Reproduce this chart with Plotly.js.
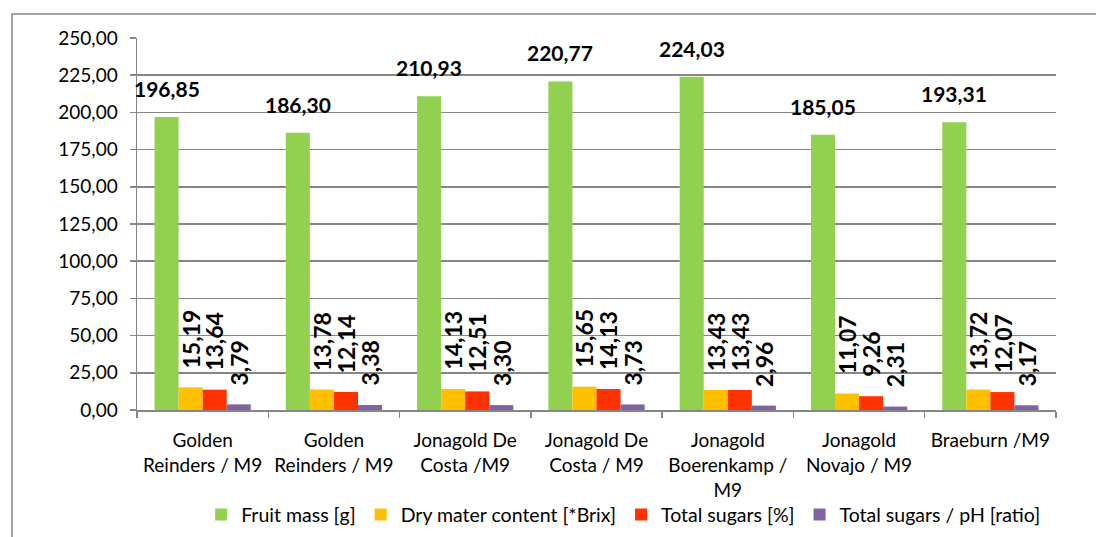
<!DOCTYPE html>
<html>
<head>
<meta charset="utf-8">
<script src="https://cdn.plot.ly/plotly-3.0.1.min.js"></script>
<style>html,body{margin:0;padding:0;background:#fff;}#chart{width:1096px;height:537px;}</style>
</head>
<body>
<div id="chart"></div>
<script>
var categories = ["Golden<br>Reinders / M9", "Golden<br>Reinders / M9", "Jonagold De<br>Costa /M9", "Jonagold De<br>Costa / M9", "Jonagold<br>Boerenkamp /<br>M9", "Jonagold<br>Novajo / M9", "Braeburn /M9"];
var fruitMass = [196.85, 186.30, 210.93, 220.77, 224.03, 185.05, 193.31];
var dryMatter = [15.19, 13.78, 14.13, 15.65, 13.43, 11.07, 13.72];
var totalSugars = [13.64, 12.14, 12.51, 14.13, 13.43, 9.26, 12.07];
var sugarsPh = [3.79, 3.38, 3.30, 3.73, 2.96, 2.31, 3.17];
var seriesNames = ["Fruit mass [g]", "Dry mater content [*Brix]", "Total sugars [%]", "Total sugars / pH [ratio]"];
var yTicks = [0, 25, 50, 75, 100, 125, 150, 175, 200, 225, 250];

var colors = ["#92D050", "#FFC000", "#FF3300", "#8064A2"];
var FONT = "Lato, 'Open Sans', sans-serif";
var BARGAP = 0.267;
var idx = categories.map(function(_, i){ return i; });
function fmt(v){ return v.toFixed(2).replace('.', ','); }

var series = [fruitMass, dryMatter, totalSugars, sugarsPh];
var nS = series.length;
var barW = (1 - BARGAP) / nS;

var traces = series.map(function(vals, k){
  return {
    type: 'bar',
    name: seriesNames[k],
    x: idx,
    y: vals,
    marker: {color: colors[k], line: {width: 0}},
    hoverinfo: 'none'
  };
});

var annotations = [];
series.forEach(function(vals, k){
  var off = -(1 - BARGAP) / 2 + barW * (k + 0.5);
  vals.forEach(function(v, i){
    if (k === 0) {
      annotations.push({x: i + off, y: v, xref: 'x', yref: 'y', text: fmt(v), showarrow: false,
        xanchor: 'center', yanchor: 'bottom', yshift: 14,
        font: {family: FONT, size: 21, weight: 700, color: '#000'}});
    } else {
      annotations.push({x: i + off, y: v, xref: 'x', yref: 'y', text: fmt(v), showarrow: false,
        textangle: -90, xanchor: 'center', yanchor: 'bottom', yshift: 17,
        font: {family: FONT, size: 23, weight: 700, color: '#000'}});
    }
  });
});

var layout = {
  width: 1096, height: 537,
  margin: {l: 137, r: 40, t: 38, b: 127, autoexpand: false},
  paper_bgcolor: '#fff', plot_bgcolor: '#fff',
  separators: ',.',
  barmode: 'group',
  bargap: BARGAP,
  bargroupgap: 0,
  font: {family: FONT, size: 19, color: '#000'},
  showlegend: true,
  legend: {orientation: 'h', x: 0.529, xanchor: 'center', y: -0.282, yanchor: 'middle',
           bgcolor: 'rgba(0,0,0,0)',
           font: {family: FONT, size: 19.5, color: '#000'}, traceorder: 'normal', itemwidth: 30},
  xaxis: {
    range: [-0.5, 6.5], tickmode: 'array', tickvals: idx, ticktext: categories,
    ticks: '', showgrid: false, zeroline: false, automargin: false,
    showline: true, linecolor: '#868686', linewidth: 1.5,
    tickfont: {family: FONT, size: 19, color: '#000'}, ticklabelstandoff: 13,
    minor: {tickmode: 'linear', tick0: 0.5, dtick: 1, ticks: 'outside', ticklen: 6, tickcolor: '#868686', tickwidth: 1.5, showgrid: false}
  },
  yaxis: {
    range: [0, 250], tickmode: 'array', tickvals: yTicks, tickformat: '.2f',
    showgrid: true, gridcolor: '#868686', gridwidth: 1.5, automargin: false,
    zeroline: false, showline: true, linecolor: '#868686', linewidth: 1.5,
    ticks: 'outside', ticklen: 6, tickcolor: '#868686', tickwidth: 1.5,
    tickfont: {family: FONT, size: 19, color: '#000'}, ticklabelstandoff: 8
  },
  annotations: annotations,
  shapes: [{type: 'rect', xref: 'paper', yref: 'paper', x0: -0.136, x1: 1.3, y0: -0.6, y1: 1.0645,
            line: {color: '#868686', width: 1.5}, fillcolor: 'rgba(0,0,0,0)', layer: 'below'}]
};

Plotly.newPlot('chart', traces, layout, {staticPlot: true, displayModeBar: false});
</script>
</body>
</html>
